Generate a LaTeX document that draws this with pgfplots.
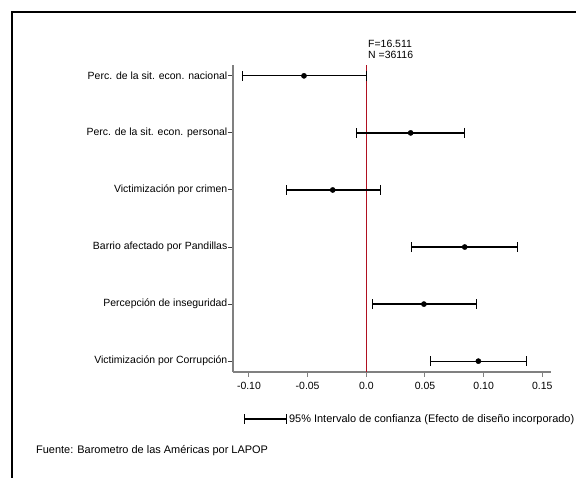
\documentclass[border=0pt]{standalone}
\usepackage{pgfplots}
\pgfplotsset{compat=1.18}
\usepackage{pgfplotstable}
\usepackage{fontspec}
\setmainfont{Liberation Sans}
\definecolor{axgray}{HTML}{808080}
\definecolor{zred}{HTML}{B01020}
\pgfplotstableread{
y x ep em
6 -0.0531 0.0533 0.0523
5 0.0378 0.0457 0.0461
4 -0.0286 0.0407 0.0398
3 0.0839 0.0451 0.0451
2 0.0491 0.0445 0.0442
1 0.0955 0.0406 0.0406
}\data
\begin{document}
\begin{tikzpicture}
\useasboundingbox (0,0) rectangle (576bp,478bp);
\fill[white] (0,0) rectangle (576bp,478bp);
\draw[line width=2bp] (12bp,0) -- (12bp,466bp) -- (590bp,466bp);
\begin{axis}[
  at={(233bp,106bp)}, anchor=south west,
  scale only axis, width=318bp, height=307bp,
  xmin=-0.1136, xmax=0.1574, ymin=0.81, ymax=6.19,
  axis x line*=bottom, axis y line*=left,
  axis line style={axgray, line width=1.3bp, -},
  xtick={-0.1,-0.05,0,0.05,0.1,0.15},
  xticklabels={-0.10,-0.05,0.0,0.05,0.10,0.15},
  ytick={1,2,3,4,5,6},
  yticklabels={Victimización por Corrupción,Percepción de inseguridad,Barrio afectado por Pandillas,Victimización por crimen,Perc. de la sit. econ. personal,Perc. de la sit. econ. nacional},
  tick align=outside, major tick length=5bp,
  tick style={axgray, line width=1bp},
  ytick style={black!75, line width=1bp},
  ticklabel style={font=\fontsize{10.5}{12}\selectfont},
  yticklabel style={inner xsep=0.5bp},
  xticklabel style={yshift=-2bp},
  clip=false,
  legend style={at={(0.035,-0.153)}, anchor=west, draw=none, fill=none,
    inner sep=0pt, font=\fontsize{11}{12}\selectfont,
    nodes={inner xsep=1.5bp}},
  legend cell align=left,
]
\addplot[zred, line width=0.9bp, forget plot] coordinates {(0,0.81) (0,6.19)};
\addplot[only marks, mark=*, mark size=2.6bp, black, forget plot,
  error bars/.cd, x dir=both, x explicit,
  error bar style={line width=1.3bp, black},
  error mark options={rotate=90, mark size=5bp, line width=1bp, black}]
  table[x=x, y=y, x error plus=ep, x error minus=em]{\data};
\addlegendimage{legend image code/.code={
  \draw[line width=1.3bp, black] (0bp,0bp) -- (42bp,0bp);
  \draw[line width=1bp, black] (0bp,-5bp) -- (0bp,5bp);
  \draw[line width=1bp, black] (42bp,-5bp) -- (42bp,5bp);}}
\addlegendentry{95\% Intervalo de confianza (Efecto de diseño incorporado)}
\end{axis}
\node[anchor=west, align=left, inner sep=0pt, font=\fontsize{10.5}{11}\selectfont] at (368bp,429bp) {F=16.511\\N =36116};
\node[anchor=west, inner sep=0pt, font=\fontsize{11}{12}\selectfont] at (36bp,27bp) {Fuente: Barometro de las Américas por LAPOP};
\end{tikzpicture}
\end{document}
